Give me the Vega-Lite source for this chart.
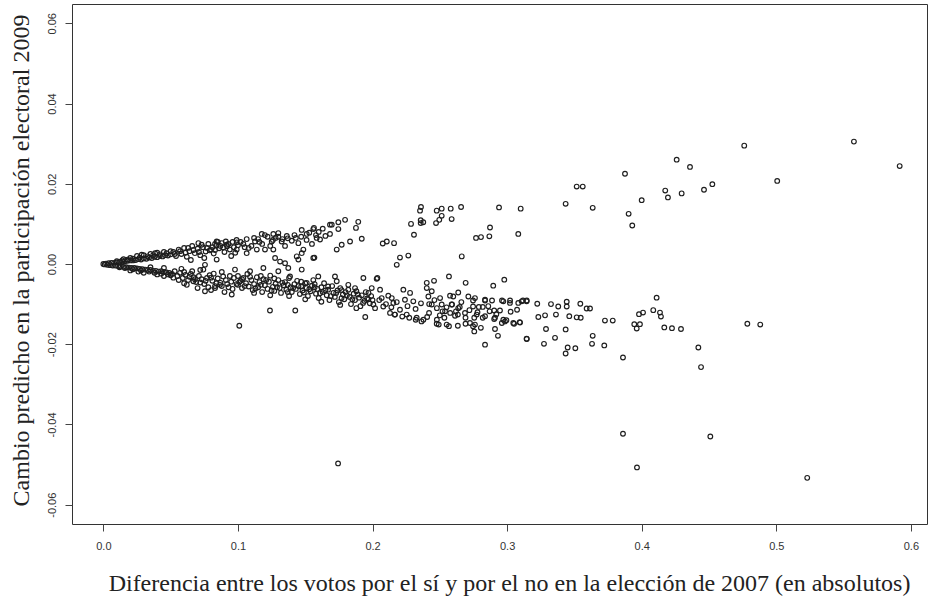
{
"$schema": "https://vega.github.io/schema/vega-lite/v6.json",
"width": 855, "height": 520,
"autosize": {"type": "none"},
"padding": {"left": 72, "top": 4, "right": 5, "bottom": 77},
"background": "white",
"config": {"view": {"stroke": "#333", "strokeWidth": 1},
  "locale": {"number": {"decimal": ".", "thousands": ",", "grouping": [3], "currency": ["$", ""], "minus": "-"}}},
"data": {"values": [
{"x":0.000,"y":0.0000},{"x":0.002,"y":0.0001},{"x":0.004,"y":0.0002},{"x":0.006,"y":0.0003},{"x":0.008,"y":0.0003},{"x":0.010,"y":0.0004},{"x":0.012,"y":0.0005},{"x":0.014,"y":0.0006},{"x":0.016,"y":0.0007},{"x":0.018,"y":0.0008},{"x":0.020,"y":0.0009},{"x":0.022,"y":0.0009},{"x":0.024,"y":0.0010},{"x":0.026,"y":0.0012},{"x":0.028,"y":0.0011},{"x":0.030,"y":0.0014},{"x":0.032,"y":0.0013},{"x":0.034,"y":0.0016},{"x":0.036,"y":0.0015},{"x":0.038,"y":0.0018},{"x":0.040,"y":0.0017},{"x":0.042,"y":0.0020},{"x":0.044,"y":0.0019},{"x":0.046,"y":0.0022},{"x":0.048,"y":0.0021},{"x":0.050,"y":0.0024},
{"x":0.025,"y":0.0020},{"x":0.035,"y":0.0025},{"x":0.045,"y":0.0030},{"x":0.050,"y":0.0032},{"x":0.040,"y":0.0028},{"x":0.030,"y":0.0022},{"x":0.0384,"y":0.0027},{"x":0.0285,"y":0.0023},{"x":0.015,"y":0.0012},{"x":0.020,"y":0.0015},
{"x":0.010,"y":0.0007},{"x":0.014,"y":0.0009},{"x":0.018,"y":0.0011},{"x":0.022,"y":0.0013},{"x":0.027,"y":0.0016},{"x":0.033,"y":0.0019},{"x":0.037,"y":0.0022},{"x":0.042,"y":0.0024},{"x":0.047,"y":0.0027},
{"x":0.001,"y":-0.0001},{"x":0.003,"y":-0.0002},{"x":0.005,"y":-0.0003},{"x":0.007,"y":-0.0004},{"x":0.009,"y":-0.0004},{"x":0.011,"y":-0.0005},{"x":0.013,"y":-0.0006},{"x":0.015,"y":-0.0007},{"x":0.017,"y":-0.0008},{"x":0.019,"y":-0.0009},{"x":0.021,"y":-0.0010},{"x":0.023,"y":-0.0010},{"x":0.025,"y":-0.0011},{"x":0.027,"y":-0.0012},{"x":0.029,"y":-0.0013},{"x":0.031,"y":-0.0014},{"x":0.033,"y":-0.0015},{"x":0.035,"y":-0.0015},{"x":0.037,"y":-0.0017},{"x":0.039,"y":-0.0017},{"x":0.041,"y":-0.0019},{"x":0.043,"y":-0.0018},{"x":0.045,"y":-0.0020},{"x":0.047,"y":-0.0021},{"x":0.049,"y":-0.0022},
{"x":0.030,"y":-0.0022},{"x":0.040,"y":-0.0026},{"x":0.045,"y":-0.0030},{"x":0.050,"y":-0.0028},{"x":0.035,"y":-0.0008},{"x":0.045,"y":-0.0010},{"x":0.020,"y":-0.0016},{"x":0.026,"y":-0.0019},
{"x":0.012,"y":-0.0008},{"x":0.016,"y":-0.0010},{"x":0.022,"y":-0.0013},{"x":0.028,"y":-0.0016},{"x":0.034,"y":-0.0019},{"x":0.038,"y":-0.0022},{"x":0.043,"y":-0.0024},{"x":0.048,"y":-0.0026},
{"x":0.052,"y":0.0030},{"x":0.054,"y":0.0020},{"x":0.056,"y":0.0036},{"x":0.058,"y":0.0025},{"x":0.060,"y":0.0040},{"x":0.062,"y":0.0018},{"x":0.064,"y":0.0032},{"x":0.066,"y":0.0045},{"x":0.068,"y":0.0027},{"x":0.070,"y":0.0038},{"x":0.072,"y":0.0022},{"x":0.074,"y":0.0042},{"x":0.076,"y":0.0031},{"x":0.078,"y":0.0050},{"x":0.080,"y":0.0036},{"x":0.082,"y":0.0026},{"x":0.084,"y":0.0046},{"x":0.086,"y":0.0039},{"x":0.088,"y":0.0052},{"x":0.090,"y":0.0030},{"x":0.092,"y":0.0044},{"x":0.094,"y":0.0036},{"x":0.096,"y":0.0055},{"x":0.098,"y":0.0028},{"x":0.100,"y":0.0047},{"x":0.085,"y":0.0055},{"x":0.075,"y":0.0015},{"x":0.065,"y":0.0010},{"x":0.095,"y":0.0020},{"x":0.083,"y":0.0050},{"x":0.087,"y":0.0045},{"x":0.081,"y":0.0042},{"x":0.0706,"y":0.0052},{"x":0.0842,"y":0.0056},{"x":0.0917,"y":0.0048},{"x":0.0842,"y":0.0011},{"x":0.0755,"y":-0.0002},{"x":0.0743,"y":-0.0014},
{"x":0.053,"y":0.0025},{"x":0.057,"y":0.0032},{"x":0.061,"y":0.0028},{"x":0.063,"y":0.0040},{"x":0.067,"y":0.0035},{"x":0.071,"y":0.0030},{"x":0.073,"y":0.0048},{"x":0.077,"y":0.0040},{"x":0.079,"y":0.0034},{"x":0.083,"y":0.0035},{"x":0.089,"y":0.0041},{"x":0.091,"y":0.0056},{"x":0.093,"y":0.0050},{"x":0.097,"y":0.0042},{"x":0.099,"y":0.0060},{"x":0.102,"y":0.0055},{"x":0.105,"y":0.0042},{"x":0.112,"y":0.0065},{"x":0.116,"y":0.0055},{"x":0.120,"y":0.0072},{"x":0.126,"y":0.0060},{"x":0.130,"y":0.0068},{"x":0.137,"y":0.0064},{"x":0.142,"y":0.0072},{"x":0.147,"y":0.0068},{"x":0.153,"y":0.0078},{"x":0.158,"y":0.0072},{"x":0.163,"y":0.0088},
{"x":0.051,"y":-0.0025},{"x":0.053,"y":-0.0018},{"x":0.055,"y":-0.0030},{"x":0.057,"y":-0.0022},{"x":0.059,"y":-0.0035},{"x":0.061,"y":-0.0027},{"x":0.063,"y":-0.0040},{"x":0.065,"y":-0.0025},{"x":0.067,"y":-0.0033},{"x":0.069,"y":-0.0045},{"x":0.071,"y":-0.0030},{"x":0.073,"y":-0.0038},{"x":0.075,"y":-0.0050},{"x":0.077,"y":-0.0035},{"x":0.079,"y":-0.0028},{"x":0.081,"y":-0.0042},{"x":0.083,"y":-0.0055},{"x":0.085,"y":-0.0036},{"x":0.087,"y":-0.0047},{"x":0.089,"y":-0.0031},{"x":0.091,"y":-0.0040},{"x":0.093,"y":-0.0058},{"x":0.095,"y":-0.0044},{"x":0.097,"y":-0.0035},{"x":0.099,"y":-0.0050},{"x":0.060,"y":-0.0048},{"x":0.070,"y":-0.0060},{"x":0.080,"y":-0.0065},{"x":0.090,"y":-0.0070},{"x":0.058,"y":-0.0012},{"x":0.072,"y":-0.0015},{"x":0.088,"y":-0.0020},{"x":0.0669,"y":-0.0043},{"x":0.0755,"y":-0.0068},{"x":0.083,"y":-0.0060},{"x":0.0867,"y":-0.0052},{"x":0.0954,"y":-0.0076},
{"x":0.052,"y":-0.0034},{"x":0.056,"y":-0.0040},{"x":0.060,"y":-0.0020},{"x":0.064,"y":-0.0032},{"x":0.068,"y":-0.0038},{"x":0.072,"y":-0.0046},{"x":0.076,"y":-0.0042},{"x":0.080,"y":-0.0034},{"x":0.084,"y":-0.0048},{"x":0.088,"y":-0.0055},{"x":0.092,"y":-0.0050},{"x":0.096,"y":-0.0062},{"x":0.062,"y":-0.0052},{"x":0.078,"y":-0.0058},{"x":0.094,"y":-0.0030},{"x":0.066,"y":-0.0018},{"x":0.082,"y":-0.0024},
{"x":0.0991,"y":0.0054},{"x":0.1065,"y":0.0062},{"x":0.1127,"y":0.0056},{"x":0.1177,"y":0.0075},{"x":0.1263,"y":0.0075},{"x":0.1300,"y":0.0077},{"x":0.1251,"y":0.0056},{"x":0.1325,"y":0.0056},{"x":0.1363,"y":0.0070},{"x":0.1474,"y":0.0085},{"x":0.1511,"y":0.0075},{"x":0.1560,"y":0.0087},{"x":0.1585,"y":0.0065},{"x":0.1684,"y":0.0098},{"x":0.1746,"y":0.0104},{"x":0.1796,"y":0.0110},{"x":0.1894,"y":0.0105},{"x":0.1877,"y":0.0090},{"x":0.1684,"y":0.0075},{"x":0.1746,"y":0.0087},{"x":0.1920,"y":0.0063},{"x":0.1833,"y":0.0056},{"x":0.1771,"y":0.0048},{"x":0.1734,"y":0.0036},{"x":0.1449,"y":0.0052},{"x":0.1486,"y":0.0036},{"x":0.1474,"y":0.0027},{"x":0.1560,"y":0.0015},{"x":0.1437,"y":0.0019},{"x":0.1449,"y":0.0011},{"x":0.1263,"y":0.0036},{"x":0.1201,"y":0.0036},{"x":0.1140,"y":0.0036},{"x":0.1065,"y":0.0027},{"x":0.0991,"y":0.0036},{"x":0.1276,"y":0.0015},{"x":0.1313,"y":0.0006},{"x":0.1350,"y":0.0002},{"x":0.1374,"y":-0.0010},{"x":0.1474,"y":-0.0014},{"x":0.1610,"y":0.0061},{"x":0.1565,"y":0.0090},{"x":0.1697,"y":0.0098},{"x":0.1568,"y":0.0016},
{"x":0.122,"y":0.0068},{"x":0.128,"y":0.0065},{"x":0.133,"y":0.0062},{"x":0.124,"y":0.0045},{"x":0.118,"y":0.0050},{"x":0.110,"y":0.0045},{"x":0.104,"y":0.0050},{"x":0.135,"y":0.0045},{"x":0.140,"y":0.0058},{"x":0.143,"y":0.0065},{"x":0.151,"y":0.0060},{"x":0.155,"y":0.0050},{"x":0.160,"y":0.0080},{"x":0.165,"y":0.0070},{"x":0.108,"y":0.0040},{"x":0.115,"y":0.0062},
{"x":0.2360,"y":0.0142},{"x":0.2353,"y":0.0133},{"x":0.2477,"y":0.0133},{"x":0.2514,"y":0.0138},{"x":0.2581,"y":0.0138},{"x":0.2658,"y":0.0142},{"x":0.2940,"y":0.0141},{"x":0.3101,"y":0.0138},{"x":0.2514,"y":0.0120},{"x":0.2496,"y":0.0110},{"x":0.2472,"y":0.0102},{"x":0.2588,"y":0.0112},{"x":0.2358,"y":0.0109},{"x":0.2358,"y":0.0102},{"x":0.2377,"y":0.0104},{"x":0.2286,"y":0.0100},{"x":0.2308,"y":0.0073},{"x":0.2873,"y":0.0091},{"x":0.2769,"y":0.0065},{"x":0.2806,"y":0.0067},{"x":0.2868,"y":0.0069},{"x":0.3083,"y":0.0075},{"x":0.2076,"y":0.0051},{"x":0.2106,"y":0.0056},{"x":0.2160,"y":0.0052},{"x":0.2204,"y":0.0016},{"x":0.2266,"y":0.0021},{"x":0.2180,"y":-0.0002},{"x":0.2663,"y":0.0019},
{"x":0.2036,"y":-0.0035},{"x":0.2568,"y":-0.0031},{"x":0.2692,"y":-0.0047},{"x":0.2979,"y":-0.0039},{"x":0.2897,"y":-0.0054},{"x":0.2403,"y":-0.0047},{"x":0.2457,"y":-0.0042},
{"x":0.100,"y":-0.0030},{"x":0.100,"y":-0.0052},{"x":0.102,"y":-0.0042},{"x":0.103,"y":-0.0060},{"x":0.104,"y":-0.0035},{"x":0.106,"y":-0.0048},{"x":0.107,"y":-0.0025},{"x":0.108,"y":-0.0056},{"x":0.110,"y":-0.0040},{"x":0.111,"y":-0.0065},{"x":0.112,"y":-0.0050},{"x":0.114,"y":-0.0033},{"x":0.115,"y":-0.0058},{"x":0.116,"y":-0.0045},{"x":0.118,"y":-0.0070},{"x":0.119,"y":-0.0038},{"x":0.120,"y":-0.0053},{"x":0.122,"y":-0.0062},{"x":0.123,"y":-0.0044},{"x":0.124,"y":-0.0029},{"x":0.126,"y":-0.0057},{"x":0.127,"y":-0.0067},{"x":0.128,"y":-0.0049},{"x":0.130,"y":-0.0040},{"x":0.131,"y":-0.0060},{"x":0.132,"y":-0.0072},{"x":0.134,"y":-0.0053},{"x":0.135,"y":-0.0045},{"x":0.136,"y":-0.0064},{"x":0.138,"y":-0.0035},{"x":0.139,"y":-0.0058},{"x":0.140,"y":-0.0070},{"x":0.142,"y":-0.0050},{"x":0.143,"y":-0.0062},{"x":0.144,"y":-0.0042},{"x":0.146,"y":-0.0075},{"x":0.147,"y":-0.0056},{"x":0.148,"y":-0.0066},{"x":0.150,"y":-0.0048},{"x":0.151,"y":-0.0060},{"x":0.152,"y":-0.0080},{"x":0.154,"y":-0.0068},{"x":0.155,"y":-0.0054},{"x":0.156,"y":-0.0040},{"x":0.158,"y":-0.0074},{"x":0.159,"y":-0.0062},{"x":0.160,"y":-0.0085},{"x":0.162,"y":-0.0058},{"x":0.163,"y":-0.0070},{"x":0.164,"y":-0.0048},{"x":0.166,"y":-0.0078},{"x":0.167,"y":-0.0064},{"x":0.168,"y":-0.0090},{"x":0.170,"y":-0.0055},{"x":0.171,"y":-0.0072},{"x":0.172,"y":-0.0082},{"x":0.174,"y":-0.0066},{"x":0.175,"y":-0.0095},{"x":0.176,"y":-0.0060},{"x":0.178,"y":-0.0076},{"x":0.179,"y":-0.0088},{"x":0.180,"y":-0.0070},{"x":0.182,"y":-0.0064},{"x":0.183,"y":-0.0082},{"x":0.184,"y":-0.0100},{"x":0.186,"y":-0.0074},{"x":0.187,"y":-0.0090},{"x":0.188,"y":-0.0068},{"x":0.190,"y":-0.0084},{"x":0.191,"y":-0.0105},{"x":0.192,"y":-0.0078},{"x":0.194,"y":-0.0092},{"x":0.195,"y":-0.0070},{"x":0.196,"y":-0.0086},{"x":0.198,"y":-0.0098},{"x":0.199,"y":-0.0080},{"x":0.200,"y":-0.0090},
{"x":0.101,"y":-0.0045},{"x":0.105,"y":-0.0055},{"x":0.109,"y":-0.0032},{"x":0.113,"y":-0.0061},{"x":0.117,"y":-0.0052},{"x":0.121,"y":-0.0040},{"x":0.125,"y":-0.0066},{"x":0.129,"y":-0.0058},{"x":0.133,"y":-0.0047},{"x":0.137,"y":-0.0070},{"x":0.141,"y":-0.0060},{"x":0.145,"y":-0.0055},{"x":0.149,"y":-0.0071},{"x":0.153,"y":-0.0063},{"x":0.157,"y":-0.0058},{"x":0.161,"y":-0.0073},{"x":0.165,"y":-0.0066},{"x":0.169,"y":-0.0080},{"x":0.173,"y":-0.0072},{"x":0.177,"y":-0.0085},{"x":0.181,"y":-0.0078},{"x":0.185,"y":-0.0088},{"x":0.189,"y":-0.0076},{"x":0.193,"y":-0.0097},{"x":0.197,"y":-0.0088},{"x":0.103,"y":-0.0038},{"x":0.117,"y":-0.0030},{"x":0.127,"y":-0.0036},{"x":0.137,"y":-0.0052},{"x":0.147,"y":-0.0044},{"x":0.157,"y":-0.0050},{"x":0.167,"y":-0.0056},{"x":0.177,"y":-0.0065},{"x":0.187,"y":-0.0060},{"x":0.197,"y":-0.0072},{"x":0.112,"y":-0.0072},{"x":0.124,"y":-0.0078},{"x":0.138,"y":-0.0080},{"x":0.150,"y":-0.0088},{"x":0.162,"y":-0.0094},{"x":0.176,"y":-0.0102},{"x":0.188,"y":-0.0110},
{"x":0.1426,"y":-0.0116},{"x":0.1946,"y":-0.0132},{"x":0.2019,"y":-0.0110},{"x":0.1932,"y":-0.0035},{"x":0.2031,"y":-0.0037},{"x":0.1820,"y":-0.0052},{"x":0.1721,"y":-0.0031},{"x":0.1734,"y":-0.0043},{"x":0.1597,"y":-0.0031},{"x":0.1511,"y":-0.0047},{"x":0.1387,"y":-0.0031},{"x":0.1300,"y":-0.0018},{"x":0.1189,"y":-0.0010},{"x":0.0978,"y":-0.0014},{"x":0.1090,"y":-0.0018},{"x":0.1238,"y":-0.0116},
{"x":0.1994,"y":-0.0060},{"x":0.2056,"y":-0.0064},{"x":0.2006,"y":-0.0101},{"x":0.2080,"y":-0.0106},{"x":0.2068,"y":-0.0085},{"x":0.2117,"y":-0.0079},{"x":0.2143,"y":-0.0085},{"x":0.2155,"y":-0.0097},{"x":0.2229,"y":-0.0064},{"x":0.2279,"y":-0.0072},{"x":0.2241,"y":-0.0089},{"x":0.2303,"y":-0.0093},{"x":0.2204,"y":-0.0114},{"x":0.2130,"y":-0.0122},{"x":0.2167,"y":-0.0126},{"x":0.2254,"y":-0.0126},{"x":0.2328,"y":-0.0134},{"x":0.2403,"y":-0.0060},{"x":0.2440,"y":-0.0068},{"x":0.2415,"y":-0.0081},{"x":0.2502,"y":-0.0085},{"x":0.2576,"y":-0.0079},{"x":0.2600,"y":-0.0081},{"x":0.2637,"y":-0.0071},{"x":0.2712,"y":-0.0081},{"x":0.2761,"y":-0.0085},{"x":0.2836,"y":-0.0089},{"x":0.2440,"y":-0.0101},{"x":0.2514,"y":-0.0101},{"x":0.2588,"y":-0.0101},{"x":0.2637,"y":-0.0110},{"x":0.2539,"y":-0.0118},{"x":0.2613,"y":-0.0129},{"x":0.2687,"y":-0.0122},{"x":0.2774,"y":-0.0126},{"x":0.2836,"y":-0.0130},{"x":0.2910,"y":-0.0134},{"x":0.2972,"y":-0.0093},{"x":0.3021,"y":-0.0097},{"x":0.3083,"y":-0.0097},{"x":0.3145,"y":-0.0093},{"x":0.2972,"y":-0.0139},{"x":0.3046,"y":-0.0147},{"x":0.2836,"y":-0.0201},{"x":0.2910,"y":-0.0162},{"x":0.2932,"y":-0.0179},{"x":0.3145,"y":-0.0186},{"x":0.2761,"y":-0.0151},{"x":0.2724,"y":-0.0147},{"x":0.2551,"y":-0.0151},{"x":0.2477,"y":-0.0149},{"x":0.2378,"y":-0.0139},
{"x":0.205,"y":-0.0090},{"x":0.210,"y":-0.0100},{"x":0.214,"y":-0.0108},{"x":0.218,"y":-0.0095},{"x":0.226,"y":-0.0105},{"x":0.232,"y":-0.0112},{"x":0.236,"y":-0.0098},{"x":0.242,"y":-0.0122},{"x":0.246,"y":-0.0090},{"x":0.250,"y":-0.0128},{"x":0.255,"y":-0.0108},{"x":0.262,"y":-0.0118},{"x":0.266,"y":-0.0095},{"x":0.272,"y":-0.0115},{"x":0.278,"y":-0.0120},{"x":0.286,"y":-0.0105},{"x":0.292,"y":-0.0125},
{"x":0.2165,"y":-0.0126},{"x":0.2221,"y":-0.0131},{"x":0.2273,"y":-0.0134},{"x":0.2321,"y":-0.0139},{"x":0.2364,"y":-0.0143},{"x":0.2406,"y":-0.0132},{"x":0.2478,"y":-0.0139},{"x":0.2534,"y":-0.0134},{"x":0.2492,"y":-0.0151},{"x":0.2568,"y":-0.0155},{"x":0.2634,"y":-0.0154},{"x":0.2691,"y":-0.0149},{"x":0.2577,"y":-0.0122},{"x":0.2634,"y":-0.0126},{"x":0.2691,"y":-0.0134},{"x":0.2747,"y":-0.0106},{"x":0.2790,"y":-0.0107},{"x":0.2819,"y":-0.0107},{"x":0.2756,"y":-0.0134},{"x":0.2819,"y":-0.0134},{"x":0.2747,"y":-0.0155},{"x":0.2805,"y":-0.0159},{"x":0.2756,"y":-0.0168},{"x":0.2870,"y":-0.0118},{"x":0.2904,"y":-0.0116},{"x":0.2947,"y":-0.0116},{"x":0.2904,"y":-0.0137},{"x":0.2961,"y":-0.0147},{"x":0.2984,"y":-0.0143},{"x":0.2995,"y":-0.0140},{"x":0.3052,"y":-0.0149},{"x":0.3094,"y":-0.0145},{"x":0.3026,"y":-0.0119},{"x":0.3074,"y":-0.0114},{"x":0.2421,"y":-0.0100},{"x":0.2478,"y":-0.0110},{"x":0.2520,"y":-0.0118},{"x":0.2591,"y":-0.0101},{"x":0.2648,"y":-0.0107},{"x":0.2747,"y":-0.0091},{"x":0.2836,"y":-0.0091},{"x":0.2888,"y":-0.0091},{"x":0.2962,"y":-0.0091},{"x":0.3022,"y":-0.0091},{"x":0.3118,"y":-0.0091},
{"x":0.3146,"y":-0.0091},{"x":0.3108,"y":-0.0093},{"x":0.3224,"y":-0.0099},{"x":0.3326,"y":-0.0100},{"x":0.3380,"y":-0.0106},{"x":0.3443,"y":-0.0106},{"x":0.3443,"y":-0.0094},{"x":0.3544,"y":-0.0099},{"x":0.3591,"y":-0.0111},{"x":0.3616,"y":-0.0111},{"x":0.3232,"y":-0.0132},{"x":0.3282,"y":-0.0128},{"x":0.3363,"y":-0.0126},{"x":0.3462,"y":-0.0130},{"x":0.3517,"y":-0.0133},{"x":0.3547,"y":-0.0134},{"x":0.3096,"y":-0.0146},{"x":0.3289,"y":-0.0162},{"x":0.3435,"y":-0.0163},{"x":0.3727,"y":-0.0141},{"x":0.3785,"y":-0.0141},{"x":0.3146,"y":-0.0187},{"x":0.3274,"y":-0.0199},{"x":0.3356,"y":-0.0184},{"x":0.3450,"y":-0.0208},{"x":0.3435,"y":-0.0223},{"x":0.3507,"y":-0.0210},{"x":0.3636,"y":-0.0179},{"x":0.3631,"y":-0.0199},{"x":0.3722,"y":-0.0203},{"x":0.3861,"y":-0.0233},{"x":0.4111,"y":-0.0084},{"x":0.4086,"y":-0.0115},{"x":0.4136,"y":-0.0121},{"x":0.4143,"y":-0.0131},{"x":0.3980,"y":-0.0125},{"x":0.4010,"y":-0.0121},{"x":0.3945,"y":-0.0150},{"x":0.3963,"y":-0.0161},{"x":0.3987,"y":-0.0150},{"x":0.4168,"y":-0.0158},{"x":0.4225,"y":-0.0160},{"x":0.4292,"y":-0.0162},{"x":0.4421,"y":-0.0208},{"x":0.4441,"y":-0.0257},
{"x":0.3876,"y":0.0225},{"x":0.3517,"y":0.0193},{"x":0.3562,"y":0.0193},{"x":0.3435,"y":0.0150},{"x":0.3636,"y":0.0140},{"x":0.3903,"y":0.0125},{"x":0.3930,"y":0.0096},{"x":0.4000,"y":0.0159},{"x":0.4175,"y":0.0183},{"x":0.4195,"y":0.0166},{"x":0.4297,"y":0.0176},{"x":0.4463,"y":0.0185},{"x":0.4525,"y":0.0199},{"x":0.4359,"y":0.0242},{"x":0.4260,"y":0.0260},{"x":0.4762,"y":0.0295},{"x":0.5577,"y":0.0305},{"x":0.5917,"y":0.0244},{"x":0.5007,"y":0.0207},
{"x":0.4785,"y":-0.0149},{"x":0.4881,"y":-0.0151},{"x":0.4510,"y":-0.0430},{"x":0.5230,"y":-0.0533},{"x":0.3861,"y":-0.0423},{"x":0.3965,"y":-0.0507},{"x":0.1744,"y":-0.0497},{"x":0.1010,"y":-0.0154}
]},
"mark": {"type": "point", "shape": "circle", "filled": false, "stroke": "#1e1e1e", "strokeWidth": 1.15, "size": 22, "opacity": 1},
"encoding": {
  "x": {"field": "x", "type": "quantitative",
    "scale": {"domain": [-0.0233, 0.612], "nice": false, "zero": false},
    "axis": {"values": [0, 0.1, 0.2, 0.3, 0.4, 0.5, 0.6], "format": ".1f", "grid": false, "domain": false,
      "tickSize": 7, "tickColor": "#444", "tickWidth": 1,
      "labelFont": "Liberation Sans", "labelFontSize": 11, "labelColor": "#333", "labelPadding": 9,
      "title": "Diferencia entre los votos por el sí y por el no en la elección de 2007 (en absolutos)",
      "titleFont": "Liberation Serif", "titleFontSize": 24, "titleFontWeight": "normal", "titleColor": "#222",
      "titleX": 437, "titleY": 59, "titleAlign": "center", "titleBaseline": "middle"}},
  "y": {"field": "y", "type": "quantitative",
    "scale": {"domain": [-0.0648, 0.0648], "nice": false, "zero": false},
    "axis": {"values": [-0.06, -0.04, -0.02, 0, 0.02, 0.04, 0.06], "format": ".2f", "grid": false, "domain": false,
      "tickSize": 7, "tickColor": "#444", "tickWidth": 1,
      "labelFont": "Liberation Sans", "labelFontSize": 11, "labelColor": "#333", "labelPadding": 8,
      "labelAngle": 270, "labelAlign": "center", "labelBaseline": "bottom",
      "title": "Cambio predicho en la participación electoral 2009",
      "titleFont": "Liberation Serif", "titleFontSize": 24, "titleFontWeight": "normal", "titleColor": "#222",
      "titleAngle": 270, "titleX": -51, "titleY": 256, "titleAlign": "center", "titleBaseline": "middle"}}
}
}
